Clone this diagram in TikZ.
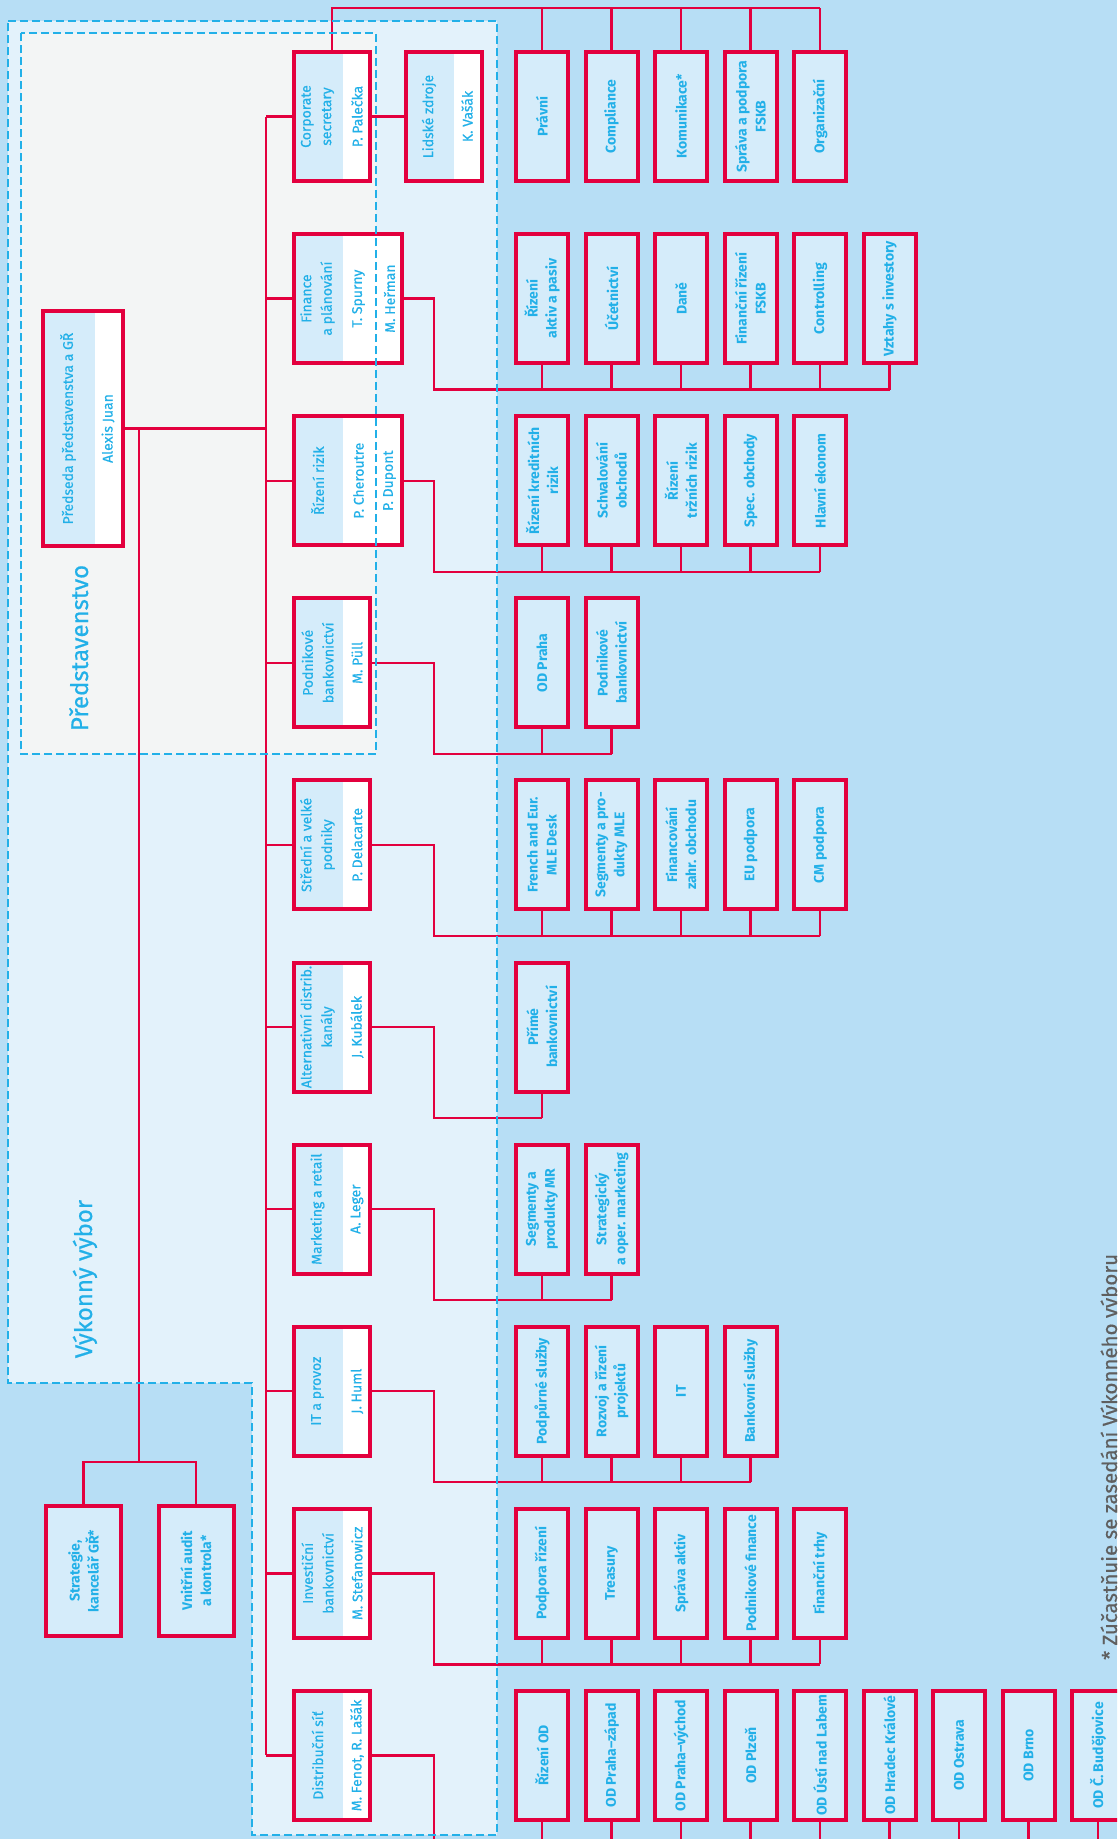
\documentclass[tikz,border=0pt]{standalone}
\usepackage{fontspec}
\setmainfont{Fira Sans}
\newfontfamily\medfont{Fira Sans}[FakeBold=0.6]
\usetikzlibrary{positioning, calc}

\definecolor{kbred}{RGB}{227,0,62}
\definecolor{kbcyan}{RGB}{34,176,232}
\definecolor{kbsky}{RGB}{183,222,245}
\definecolor{kbpale}{RGB}{227,242,251}
\definecolor{kbgrey}{RGB}{243,245,245}
\definecolor{kbbox}{RGB}{213,236,250}
\definecolor{kbnote}{RGB}{95,95,95}

\begin{document}
\begin{tikzpicture}[x=1pt, y=-1pt,
  dept/.style={draw=kbred, line width=4pt, fill=kbbox, inner sep=0pt,
    minimum width=76pt, minimum height=129pt, anchor=west,
    path picture={\fill[white] ([xshift=#1]path picture bounding box.south west)
      rectangle (path picture bounding box.north east);}},
  dept/.default=49pt,
  subdept/.style={draw=kbred, line width=4pt, fill=kbbox, inner sep=0pt,
    minimum width=52pt, minimum height=129pt},
  depttext/.style={rotate=90, text=kbcyan, align=center, inner sep=0pt,
    font=\fontsize{14}{20.5}\medfont},
  subtext/.style={depttext, font=\fontsize{14}{19}\selectfont\bfseries},
  grouplabel/.style={rotate=90, anchor=base, text=kbcyan, inner sep=0pt,
    font=\fontsize{24}{24}\medfont},
  wire/.style={draw=kbred, line width=2.4pt},
  committee/.style={draw=kbcyan, line width=2.5pt, dash pattern=on 8pt off 4pt}
]
  \useasboundingbox (0,0) rectangle (1117,1839);
  \clip (0,0) rectangle (1117,1839);
  \fill[kbsky] (0,0) rectangle (1117,1839);
  % committee areas
  \fill[kbpale] (8,21) -- (497,21) -- (497,1835) -- (252,1835) -- (252,1383) -- (8,1383) -- cycle;
  \fill[kbgrey] (21,33) rectangle (376,754);

  \coordinate (spine) at (266,0);
  \coordinate (drop) at (434,0);
  \coordinate (fork) at (139,1462);

  % chairman and his staff
  \node[dept=52pt, minimum width=80pt, minimum height=235pt] (chair) at (41,428.5) {};
  \node[depttext] (chair-t) at ([xshift=27pt]chair.west) {Předseda představenstva a GŘ};
  \node[depttext] (chair-n) at ([xshift=67pt]chair.west) {Alexis Juan};
  \node[subdept, minimum width=75pt, minimum height=130pt] (strat) at (83.5,1571) {};
  \node[subtext] (strat-t) at (strat) {Strategie,\\kancelář GŘ*};
  \node[subdept, minimum width=75pt, minimum height=130pt] (audit) at (196,1571) {};
  \node[subtext] (audit-t) at (audit) {Vnitřní audit\\a kontrola*};
  \draw[wire] (chair.east) -- (chair.east -| spine);
  \draw[wire] (chair.east -| fork) -- (fork);
  \draw[wire] (strat.north) |- (fork) -| (audit.north);

  % Corporate secretary
  \node[dept] (corp) at (292,116.5) {};
  \node[depttext] (corp-t) at ([xshift=25.5pt]corp.west) {Corporate\\secretary};
  \node[depttext] (corp-n) at ([xshift=65pt]corp.west) {P. Palečka};
  \node[dept=48pt] (hr) at (404,116.5) {};
  \node[depttext] (hr-t) at ([xshift=25pt]hr.west) {Lidské zdroje};
  \node[depttext] (hr-n) at ([xshift=63pt]hr.west) {K. Vašák};
  \draw[wire] (corp.east) -- (hr.west);
  \coordinate (corp-bus) at (0,8);
  \foreach \lbl [count=\j] in {Právní, Compliance, Komunikace*, {Správa a podpora\\FSKB}, Organizační} {
    \node[subdept] (corp-\j) at ({542+69.5*(\j-1)},116.5) {};
    \node[subtext] (corp-\j-t) at (corp-\j) {\lbl};
    \draw[wire] (corp-\j.north) -- (corp-\j.north |- corp-bus);
  }
  \draw[wire] (corp.north) |- (corp-bus -| corp-5.north);

  % Finance
  \node[dept, minimum width=108pt] (fin) at (292,298.6) {};
  \node[depttext] (fin-t) at ([xshift=25.5pt]fin.west) {Finance\\a plánování};
  \node[depttext] (fin-n1) at ([xshift=66.5pt]fin.west) {T. Spurny};
  \node[depttext] (fin-n2) at ([xshift=97.5pt]fin.west) {M. Heřman};
  \coordinate (fin-bus) at (0,389.6);
  \foreach \lbl [count=\j] in {{Řízení\\aktiv a pasiv}, Účetnictví, Daně, {Finanční řízení\\FSKB}, Controlling, Vztahy s investory} {
    \node[subdept] (fin-\j) at ({542+69.5*(\j-1)},298.6) {};
    \node[subtext] (fin-\j-t) at (fin-\j) {\lbl};
    \draw[wire] (fin-\j.south) -- (fin-\j.south |- fin-bus);
  }
  \draw[wire] (fin.east) -- (fin.east -| drop) |- (fin-bus -| fin-6.south);

  % Risk
  \node[dept, minimum width=108pt] (risk) at (292,480.7) {};
  \node[depttext] (risk-t) at ([xshift=25.5pt]risk.west) {Řízení rizik};
  \node[depttext] (risk-n1) at ([xshift=66.5pt]risk.west) {P. Cheroutre};
  \node[depttext] (risk-n2) at ([xshift=97.5pt]risk.west) {P. Dupont};
  \coordinate (risk-bus) at (0,571.7);
  \foreach \lbl [count=\j] in {{Řízení kreditních\\rizik}, {Schvalování\\obchodů}, {Řízení\\tržních rizik}, Spec. obchody, Hlavní ekonom} {
    \node[subdept] (risk-\j) at ({542+69.5*(\j-1)},480.7) {};
    \node[subtext] (risk-\j-t) at (risk-\j) {\lbl};
    \draw[wire] (risk-\j.south) -- (risk-\j.south |- risk-bus);
  }
  \draw[wire] (risk.east) -- (risk.east -| drop) |- (risk-bus -| risk-5.south);

  % Corporate banking
  \node[dept] (pod) at (292,662.8) {};
  \node[depttext] (pod-t) at ([xshift=25.5pt]pod.west) {Podnikové\\bankovnictví};
  \node[depttext] (pod-n) at ([xshift=65pt]pod.west) {M. Püll};
  \coordinate (pod-bus) at (0,753.8);
  \foreach \lbl [count=\j] in {OD Praha, {Podnikové\\bankovnictví}} {
    \node[subdept] (pod-\j) at ({542+69.5*(\j-1)},662.8) {};
    \node[subtext] (pod-\j-t) at (pod-\j) {\lbl};
    \draw[wire] (pod-\j.south) -- (pod-\j.south |- pod-bus);
  }
  \draw[wire] (pod.east) -- (pod.east -| drop) |- (pod-bus -| pod-2.south);

  % Medium and large companies
  \node[dept] (sme) at (292,844.9) {};
  \node[depttext] (sme-t) at ([xshift=25.5pt]sme.west) {Střední a velké\\podniky};
  \node[depttext] (sme-n) at ([xshift=65pt]sme.west) {P. Delacarte};
  \coordinate (sme-bus) at (0,935.9);
  \foreach \lbl [count=\j] in {{French and Eur.\\MLE Desk}, {Segmenty a pro-\\dukty MLE}, {Financování\\zahr. obchodu}, EU podpora, CM podpora} {
    \node[subdept] (sme-\j) at ({542+69.5*(\j-1)},844.9) {};
    \node[subtext] (sme-\j-t) at (sme-\j) {\lbl};
    \draw[wire] (sme-\j.south) -- (sme-\j.south |- sme-bus);
  }
  \draw[wire] (sme.east) -- (sme.east -| drop) |- (sme-bus -| sme-5.south);

  % Alternative channels
  \node[dept] (alt) at (292,1027) {};
  \node[depttext] (alt-t) at ([xshift=25.5pt]alt.west) {Alternativní distrib.\\kanály};
  \node[depttext] (alt-n) at ([xshift=65pt]alt.west) {J. Kubálek};
  \coordinate (alt-bus) at (0,1118);
  \node[subdept] (alt-1) at (542,1027) {};
  \node[subtext] (alt-1-t) at (alt-1) {Přímé\\bankovnictví};
  \draw[wire] (alt-1.south) -- (alt-1.south |- alt-bus);
  \draw[wire] (alt.east) -- (alt.east -| drop) |- (alt-bus -| alt-1.south);

  % Marketing
  \node[dept] (mkt) at (292,1209.1) {};
  \node[depttext] (mkt-t) at ([xshift=25.5pt]mkt.west) {Marketing a retail};
  \node[depttext] (mkt-n) at ([xshift=65pt]mkt.west) {A. Leger};
  \coordinate (mkt-bus) at (0,1300.1);
  \foreach \lbl [count=\j] in {{Segmenty a\\produkty MR}, {Strategický\\a oper. marketing}} {
    \node[subdept] (mkt-\j) at ({542+69.5*(\j-1)},1209.1) {};
    \node[subtext] (mkt-\j-t) at (mkt-\j) {\lbl};
    \draw[wire] (mkt-\j.south) -- (mkt-\j.south |- mkt-bus);
  }
  \draw[wire] (mkt.east) -- (mkt.east -| drop) |- (mkt-bus -| mkt-2.south);

  % IT
  \node[dept] (it) at (292,1391.2) {};
  \node[depttext] (it-t) at ([xshift=25.5pt]it.west) {IT a provoz};
  \node[depttext] (it-n) at ([xshift=65pt]it.west) {J. Huml};
  \coordinate (it-bus) at (0,1482.2);
  \foreach \lbl [count=\j] in {Podpůrné služby, {Rozvoj a řízení\\projektů}, IT, Bankovní služby} {
    \node[subdept] (it-\j) at ({542+69.5*(\j-1)},1391.2) {};
    \node[subtext] (it-\j-t) at (it-\j) {\lbl};
    \draw[wire] (it-\j.south) -- (it-\j.south |- it-bus);
  }
  \draw[wire] (it.east) -- (it.east -| drop) |- (it-bus -| it-4.south);

  % Investment banking
  \node[dept] (inv) at (292,1573.3) {};
  \node[depttext] (inv-t) at ([xshift=25.5pt]inv.west) {Investiční\\bankovnictví};
  \node[depttext] (inv-n) at ([xshift=65pt]inv.west) {M. Stefanowicz};
  \coordinate (inv-bus) at (0,1664.3);
  \foreach \lbl [count=\j] in {Podpora řízení, Treasury, Správa aktiv, Podnikové finance, Finanční trhy} {
    \node[subdept] (inv-\j) at ({542+69.5*(\j-1)},1573.3) {};
    \node[subtext] (inv-\j-t) at (inv-\j) {\lbl};
    \draw[wire] (inv-\j.south) -- (inv-\j.south |- inv-bus);
  }
  \draw[wire] (inv.east) -- (inv.east -| drop) |- (inv-bus -| inv-5.south);

  % Distribution network
  \node[dept] (dist) at (292,1755.4) {};
  \node[depttext] (dist-t) at ([xshift=25.5pt]dist.west) {Distribuční síť};
  \node[depttext] (dist-n) at ([xshift=65pt]dist.west) {M. Fenot, R. Lašák};
  \coordinate (dist-bus) at (0,1846.4);
  \foreach \lbl [count=\j] in {Řízení OD, OD Praha–západ, OD Praha–východ, OD Plzeň, OD Ústí nad Labem, OD Hradec Králové, OD Ostrava, OD Brno, OD Č. Budějovice} {
    \node[subdept] (dist-\j) at ({542+69.5*(\j-1)},1755.4) {};
    \node[subtext] (dist-\j-t) at (dist-\j) {\lbl};
    \draw[wire] (dist-\j.south) -- (dist-\j.south |- dist-bus);
  }
  \draw[wire] (dist.east) -- (dist.east -| drop) |- (dist-bus -| dist-9.south);

  % main spine
  \draw[wire] (corp.west -| spine) -- (dist.west -| spine);
  \foreach \u in {corp,fin,risk,pod,sme,alt,mkt,it,inv,dist}
    \draw[wire] (\u.west) -- (\u.west -| spine);

  % labels
  \node[grouplabel] (board-l) at (88,648) {Představenstvo};
  \node[grouplabel] (exec-l) at (92,1279) {Výkonný výbor};
  \node[rotate=90, anchor=base west, inner sep=0pt, text=kbnote,
    font=\fontsize{20.5}{20.5}\medfont] (note) at (1117,1660) {* Zúčastňuje se zasedání Výkonného výboru};

  % dashed borders on top
  \draw[committee] (8,21) -- (497,21) -- (497,1835) -- (252,1835) -- (252,1383) -- (8,1383) -- cycle;
  \draw[committee] (21,33) rectangle (376,754);
\end{tikzpicture}
\end{document}
